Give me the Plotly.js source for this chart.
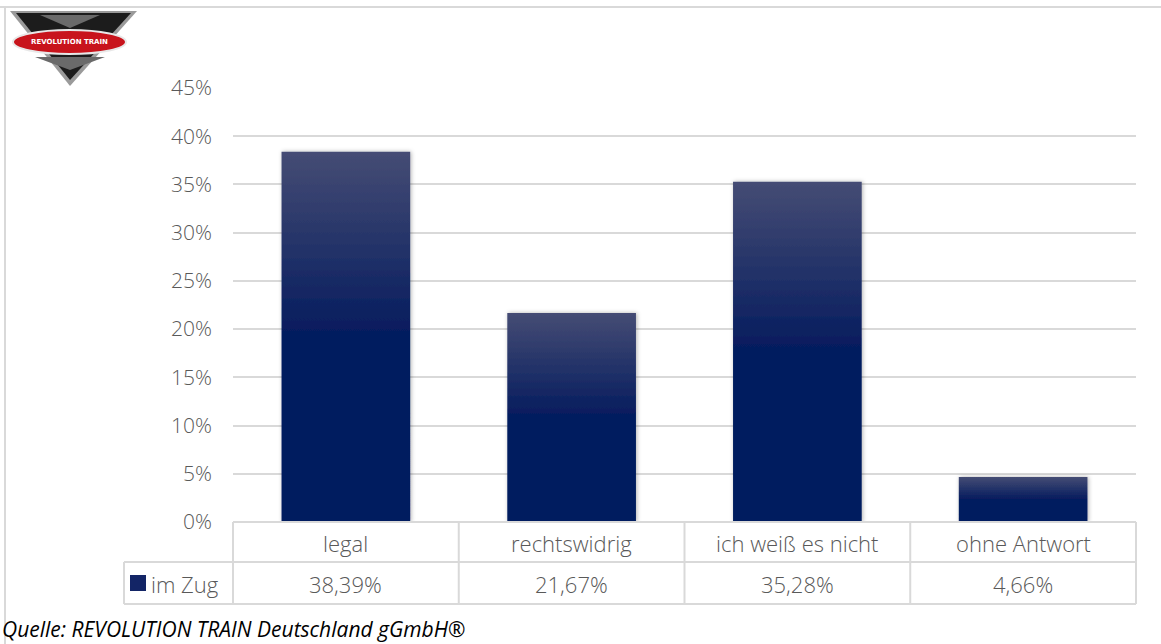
<!DOCTYPE html>
<html>
<head>
<meta charset="utf-8">
<script src="https://cdn.plot.ly/plotly-3.0.1.min.js"></script>
<style>
html,body{margin:0;padding:0;background:#fff;}
#chart{width:1161px;height:644px;}
</style>
</head>
<body>
<div id="chart"></div>
<script>
// ---- data ----
const categories = ["legal", "rechtswidrig", "ich weiß es nicht", "ohne Antwort"];
const seriesName = "im Zug";
const values = [0.3839, 0.2167, 0.3528, 0.0466];
const yTickVals = [0, 0.05, 0.10, 0.15, 0.20, 0.25, 0.30, 0.35, 0.40, 0.45];
const sourceText = "Quelle: REVOLUTION TRAIN Deutschland gGmbH®";
const logoText = "REVOLUTION TRAIN";

// ---- layout helpers (pixel -> paper) ----
const W = 1161, H = 644, L = 233, R = 1136, T = 88, B = 522;
const px = x => (x - L) / (R - L);
const py = y => (B - y) / (B - T);
const grid = "#d9d9d9";
const txt = "#595959";
const FONT = "'Open Sans', sans-serif";

const fmt = v => (v * 100).toFixed(2).replace(".", ",") + "%";

const shapes = [];
const line = (x0, y0, x1, y1) => shapes.push({
  type: "line", xref: "paper", yref: "paper",
  x0: px(x0), x1: px(x1), y0: py(y0), y1: py(y1),
  line: {color: grid, width: 2}, layer: "above"
});
// outer chart frame
line(0, 7, W, 7);
line(5, 7, 5, H);
// data table
line(233, 522, 1136, 522);
line(124, 562, 1136, 562);
line(124, 604, 1136, 604);
line(124, 562, 124, 604);
line(233, 522, 233, 604);
line(1136, 522, 1136, 604);
for (let i = 0; i < categories.length - 1; i++) {
  shapes.push({type: "line", xref: "x", yref: "paper", x0: i + 0.5, x1: i + 0.5,
    y0: py(522), y1: py(604), line: {color: grid, width: 2}});
}
// legend key in table
shapes.push({type: "rect", xref: "paper", yref: "paper", x0: px(130), x1: px(146),
  y0: py(575), y1: py(591), fillcolor: "#132566", line: {width: 0}});

// logo (approximation)
shapes.push({type: "path", xref: "paper", yref: "paper",
  path: `M ${px(10)} ${py(11)} L ${px(137)} ${py(11)} L ${px(70)} ${py(86)} Z`,
  fillcolor: "#9a9a9a", line: {width: 0}});
shapes.push({type: "path", xref: "paper", yref: "paper",
  path: `M ${px(16)} ${py(13)} L ${px(131)} ${py(13)} L ${px(70)} ${py(80)} Z`,
  fillcolor: "#1c1c1c", line: {width: 0}});
shapes.push({type: "path", xref: "paper", yref: "paper",
  path: `M ${px(40)} ${py(15)} L ${px(100)} ${py(15)} L ${px(70)} ${py(28)} Z`,
  fillcolor: "#6a6a6a", line: {width: 0}});
shapes.push({type: "path", xref: "paper", yref: "paper",
  path: `M ${px(35)} ${py(57)} L ${px(105)} ${py(57)} L ${px(70)} ${py(70)} Z`,
  fillcolor: "#6a6a6a", line: {width: 0}});
shapes.push({type: "circle", xref: "paper", yref: "paper",
  x0: px(13), x1: px(126), y0: py(30), y1: py(54),
  fillcolor: "#c8141c", line: {color: "#e8e8e8", width: 2}});

const labelFont = {family: FONT, size: 22, color: txt, weight: 300};
const tickFont = {family: FONT, size: 21, color: txt, weight: 300};
const annotations = [];
categories.forEach((c, i) => {
  annotations.push({xref: "x", yref: "paper", x: i, y: py(543), text: c, showarrow: false,
    xanchor: "center", yanchor: "middle", font: labelFont});
  annotations.push({xref: "x", yref: "paper", x: i, y: py(584), text: fmt(values[i]), showarrow: false,
    xanchor: "center", yanchor: "middle", font: labelFont});
});
annotations.push({xref: "paper", yref: "paper", x: px(149), y: py(584), text: seriesName, showarrow: false,
  xanchor: "left", yanchor: "middle", font: labelFont});
annotations.push({xref: "paper", yref: "paper", x: px(0), y: py(629), text: "<i>" + sourceText + "</i>",
  showarrow: false, xanchor: "left", yanchor: "middle", font: {family: FONT, size: 21, color: "#000"}});
annotations.push({xref: "paper", yref: "paper", x: px(69.5), y: py(42), text: "<b>" + logoText + "</b>",
  showarrow: false, xanchor: "center", yanchor: "middle", font: {family: "'DejaVu Sans', sans-serif", size: 7, color: "#fff"}});

const trace = {
  type: "bar", x: categories, y: values, name: seriesName,
  marker: {color: "#0a1d5f", line: {width: 0}},
  hoverinfo: "none"
};

const layout = {
  width: W, height: H,
  margin: {l: L, r: W - R, t: T, b: H - B, pad: 0},
  paper_bgcolor: "#fff", plot_bgcolor: "#fff",
  showlegend: false,
  bargap: 0.43,
  xaxis: {showticklabels: false, showgrid: false, zeroline: false, showline: false, ticks: ""},
  yaxis: {range: [0, 0.45], tickvals: yTickVals, tickformat: ".0%",
    showgrid: true, gridcolor: grid, gridwidth: 2, zeroline: false, showline: false,
    ticks: "", ticklabelstandoff: 20,
    tickfont: tickFont},
  shapes, annotations
};

Plotly.newPlot("chart", [trace], layout, {displayModeBar: false, staticPlot: true}).then(gd => {
  const svg = gd.querySelector("svg.main-svg");
  const NS = "http://www.w3.org/2000/svg";
  let defs = svg.querySelector("defs");
  if (!defs) { defs = document.createElementNS(NS, "defs"); svg.insertBefore(defs, svg.firstChild); }
  const g = document.createElementNS(NS, "linearGradient");
  g.setAttribute("id", "barGrad"); g.setAttribute("x1", "0"); g.setAttribute("y1", "0");
  g.setAttribute("x2", "0"); g.setAttribute("y2", "1");
  [["0", "#454c74"], ["0.5", "#041b5e"], ["1", "#001a5e"]].forEach(([o, c]) => {
    const s = document.createElementNS(NS, "stop");
    s.setAttribute("offset", o); s.setAttribute("stop-color", c); g.appendChild(s);
  });
  defs.appendChild(g);
  const f = document.createElementNS(NS, "filter");
  f.setAttribute("id", "barShadow"); f.setAttribute("x", "-10%"); f.setAttribute("y", "-10%");
  f.setAttribute("width", "120%"); f.setAttribute("height", "120%");
  const ds = document.createElementNS(NS, "feDropShadow");
  ds.setAttribute("dx", "1"); ds.setAttribute("dy", "0"); ds.setAttribute("stdDeviation", "2");
  ds.setAttribute("flood-color", "#000"); ds.setAttribute("flood-opacity", "0.3");
  f.appendChild(ds); defs.appendChild(f);
  gd.querySelectorAll(".bars .point path").forEach(p => {
    p.style.fill = "url(#barGrad)";
    p.setAttribute("filter", "url(#barShadow)");
  });
});
</script>
</body>
</html>
